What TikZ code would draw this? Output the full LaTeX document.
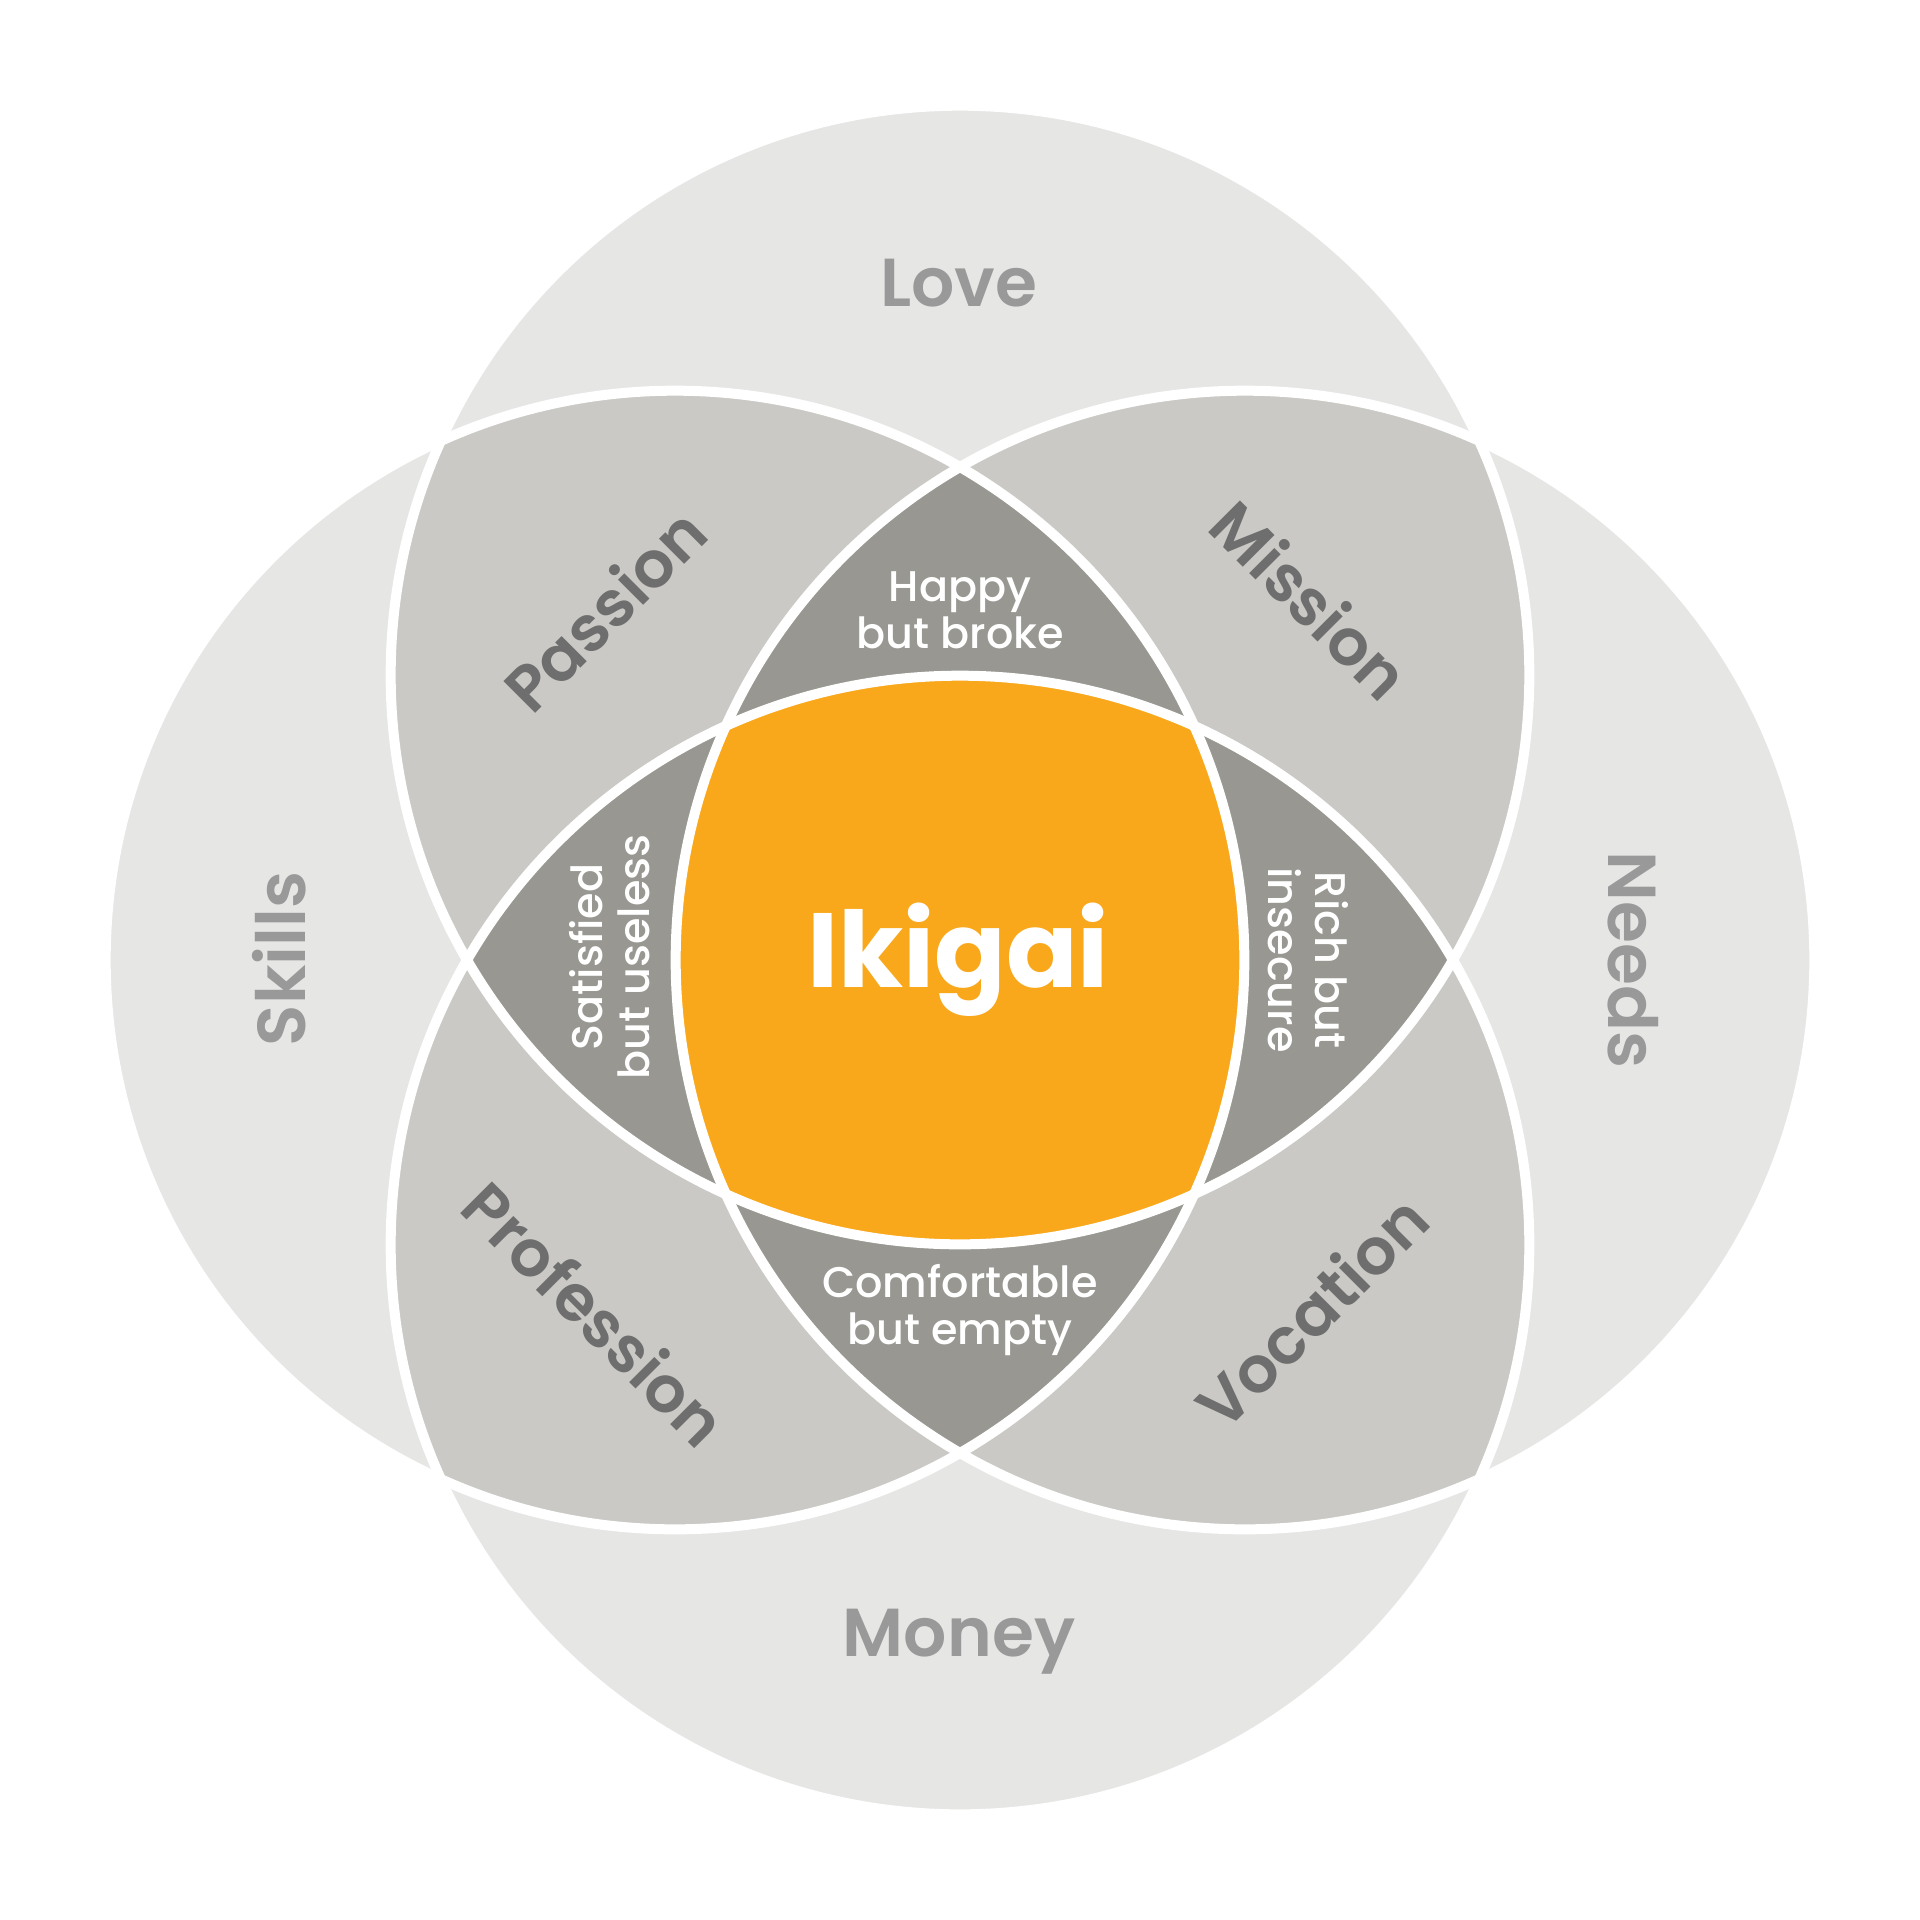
\documentclass[tikz,border=0pt]{standalone}
\usepackage{fontspec}
\newfontfamily\psemi{Poppins SemiBold}
\newfontfamily\pmed{Poppins Medium}
\newfontfamily\pbold{Poppins Bold}
\definecolor{cLight}{HTML}{E6E6E5}
\definecolor{cMid}{HTML}{CAC9C5}
\definecolor{cDark}{HTML}{989791}
\definecolor{cOrange}{HTML}{F9A81B}
\definecolor{cOuterTxt}{HTML}{999999}
\definecolor{cPairTxt}{HTML}{6E6E6E}
\tikzset{
  outerword/.style={font={\psemi\fontsize{19.3}{22}\selectfont}, text=cOuterTxt, inner sep=0pt, text height=13.6pt, text depth=0pt},
  pairword/.style={font={\psemi\fontsize{18.3}{21}\selectfont}, text=cPairTxt, inner sep=0pt, text height=12.9pt, text depth=0pt},
  smalltxt/.style={font={\pmed\fontsize{12.2}{13.4}\selectfont}, text=white, inner sep=0pt, align=center},
  ringline/.style={draw=white, line width=0.1cm}
}
\begin{document}
\begin{tikzpicture}[x=0.01cm,y=-0.01cm]
\useasboundingbox[fill=white] (0,0) rectangle (1920,1920);
\def\R{5.69cm}
\coordinate (T) at (960,675);
\coordinate (B) at (960,1245);
\coordinate (L) at (675,960);
\coordinate (R) at (1245,960);
% single circles
\foreach \c in {T,B,L,R} \fill[cLight] (\c) circle[radius=\R];
% pairs
\foreach \a/\b in {T/L,T/R,B/L,B/R,T/B,L/R}{
  \begin{scope}
    \clip (\a) circle[radius=\R];
    \fill[cMid] (\b) circle[radius=\R];
  \end{scope}
}
% triples
\foreach \a/\b/\c in {T/L/R,B/L/R,T/B/L,T/B/R}{
  \begin{scope}
    \clip (\a) circle[radius=\R];
    \clip (\b) circle[radius=\R];
    \fill[cDark] (\c) circle[radius=\R];
  \end{scope}
}
% all four
\begin{scope}
  \clip (T) circle[radius=\R];
  \clip (B) circle[radius=\R];
  \clip (L) circle[radius=\R];
  \fill[cOrange] (R) circle[radius=\R];
\end{scope}
% white rings
\foreach \c in {T,B,L,R} \draw[ringline] (\c) circle[radius=\R];
% labels
\node[outerword] (love) at (959,283) {Love};
\node[outerword] (money) at (959,1633) {Money};
\node[outerword, rotate=90] (skills) at (282,959) {Skills};
\node[outerword, rotate=-90] (needs) at (1632,960) {Needs};
\node[pairword, rotate=45] (passion) at (606,611) {Passion};
\node[pairword, rotate=-45] (mission) at (1309,601) {Mission};
\node[pairword, rotate=-45] (profession) at (594,1315) {Profession};
\node[pairword, rotate=45] (vocation) at (1313,1313) {Vocation};
\node[smalltxt] (happy) at (960,610) {Happy\\but broke};
\node[smalltxt] (comfort) at (960,1310) {Comfortable\\but empty};
\node[smalltxt, rotate=90] (satisfied) at (610,957) {Satisfied\\but useless};
\node[smalltxt, rotate=-90] (rich) at (1308,960) {Rich but\\insecure};
\node[font={\pbold\fontsize{30}{33}\selectfont}, text=white, inner sep=0pt, anchor=base] (ikigai) at (958,987) {Ikigai};
\end{tikzpicture}
\end{document}
